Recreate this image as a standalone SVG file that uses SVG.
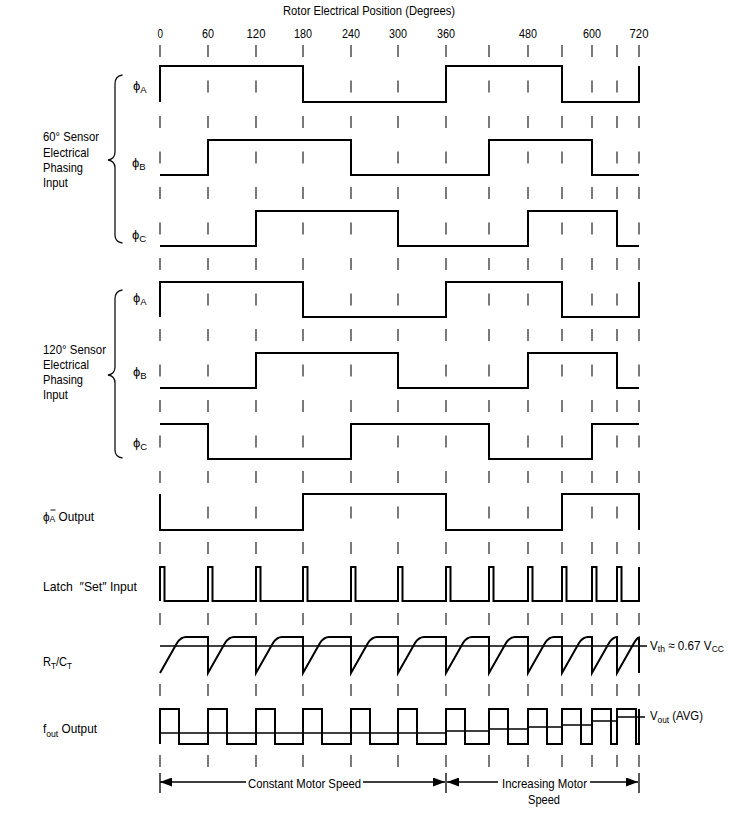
<svg xmlns="http://www.w3.org/2000/svg" width="740" height="813" viewBox="0 0 740 813">
<defs>
<style>
text{font-family:"Liberation Sans",Arial,sans-serif;font-size:13px;fill:#000}
.sub{font-size:9.5px}
.wave{fill:none;stroke:#000;stroke-width:2;stroke-linejoin:miter}
.tick{fill:none;stroke:#333;stroke-width:1.3;stroke-dasharray:12 23.5}
.bar{fill:none;stroke:#222;stroke-width:1.5}
.brace{fill:none;stroke:#111;stroke-width:1.3}
.thin{fill:none;stroke:#000;stroke-width:1.6}
</style>
<marker id="ah" viewBox="0 0 12 9" refX="12" refY="4.5" markerWidth="12" markerHeight="9" markerUnits="userSpaceOnUse" orient="auto-start-reverse">
<path d="M0,0 L12,4.5 L0,9 z" fill="#000"/>
</marker>
</defs>
<rect width="740" height="813" fill="#fff"/>

<g id="axis">
<text x="283" y="15" textLength="172" lengthAdjust="spacingAndGlyphs">Rotor Electrical Position (Degrees)</text>
<text x="157.5" y="38" textLength="5.5" lengthAdjust="spacingAndGlyphs">0</text>
<text x="202" y="38" textLength="12" lengthAdjust="spacingAndGlyphs">60</text>
<text x="246.5" y="38" textLength="19" lengthAdjust="spacingAndGlyphs">120</text>
<text x="294" y="38" textLength="18" lengthAdjust="spacingAndGlyphs">180</text>
<text x="342" y="38" textLength="18" lengthAdjust="spacingAndGlyphs">240</text>
<text x="389" y="38" textLength="18" lengthAdjust="spacingAndGlyphs">300</text>
<text x="437" y="38" textLength="18" lengthAdjust="spacingAndGlyphs">360</text>
<text x="519" y="38" textLength="18" lengthAdjust="spacingAndGlyphs">480</text>
<text x="583" y="38" textLength="18" lengthAdjust="spacingAndGlyphs">600</text>
<text x="629.5" y="38" textLength="19" lengthAdjust="spacingAndGlyphs">720</text>
</g>

<g id="ticks">
<path class="tick" d="M160,45 V626 M160,684 V768"/>
<path class="tick" d="M208,45 V768 M256,45 V768 M303,45 V768 M351,45 V768 M398,45 V768 M446,45 V768 M489,45 V768 M528,45 V768 M562,45 V768 M592,45 V768 M617,45 V768 M639,45 V768"/>
<path class="bar" d="M160,773 V793 M446,773 V793 M639,773 V793"/>
</g>

<g id="sensor60">
<text x="43" y="141" textLength="56" lengthAdjust="spacingAndGlyphs">60° Sensor</text>
<text x="43" y="157" textLength="46" lengthAdjust="spacingAndGlyphs">Electrical</text>
<text x="43" y="172" textLength="40" lengthAdjust="spacingAndGlyphs">Phasing</text>
<text x="43" y="187" textLength="25" lengthAdjust="spacingAndGlyphs">Input</text>
<path class="brace" d="M122.5,75 Q115,76 115,84 V152 Q115,159 108,160 Q115,161 115,168 V235 Q115,242 122.5,243"/>
</g>

<g id="s60-phiA">
<text x="133" y="90">ϕ<tspan class="sub" dy="3">A</tspan></text>
<path class="wave" d="M160,102 V66 H303 V102 H446 V66 H562 V102 H639 V66"/>
</g>
<g id="s60-phiB">
<text x="132" y="167">ϕ<tspan class="sub" dy="3">B</tspan></text>
<path class="wave" d="M160,175 H208 V140 H351 V175 H489 V140 H592 V175 H639"/>
</g>
<g id="s60-phiC">
<text x="132" y="239">ϕ<tspan class="sub" dy="3">C</tspan></text>
<path class="wave" d="M160,246 H256 V211 H398 V246 H528 V211 H617 V246 H639"/>
</g>

<g id="sensor120">
<text x="43" y="354" textLength="63" lengthAdjust="spacingAndGlyphs">120° Sensor</text>
<text x="43" y="369" textLength="46" lengthAdjust="spacingAndGlyphs">Electrical</text>
<text x="43" y="384" textLength="40" lengthAdjust="spacingAndGlyphs">Phasing</text>
<text x="43" y="399" textLength="25" lengthAdjust="spacingAndGlyphs">Input</text>
<path class="brace" d="M122.5,290 Q115,291 115,299 V367 Q115,374 108,375 Q115,376 115,383 V450 Q115,457 122.5,458"/>
</g>

<g id="s120-phiA">
<text x="133" y="302">ϕ<tspan class="sub" dy="3">A</tspan></text>
<path class="wave" d="M160,317 V282 H303 V317 H446 V282 H562 V317 H639 V282"/>
</g>
<g id="s120-phiB">
<text x="133" y="376">ϕ<tspan class="sub" dy="3">B</tspan></text>
<path class="wave" d="M160,388 H256 V353 H398 V388 H528 V353 H617 V388 H639"/>
</g>
<g id="s120-phiC">
<text x="133" y="447">ϕ<tspan class="sub" dy="3">C</tspan></text>
<path class="wave" d="M160,424 H208 V459 H351 V424 H489 V459 H592 V424 H639"/>
</g>

<g id="phiAbar-output">
<text x="43" y="521" textLength="51" lengthAdjust="spacingAndGlyphs">ϕ<tspan class="sub" dy="1">A</tspan><tspan dy="-1"> Output</tspan></text>
<line x1="50.5" y1="510" x2="55.5" y2="510" stroke="#111" stroke-width="1"/>
<path class="wave" d="M160,494 V530 H303 V494 H446 V530 H562 V494 H639 V530"/>
</g>

<g id="latch-set">
<text x="43" y="591" textLength="94" lengthAdjust="spacingAndGlyphs" xml:space="preserve">Latch  ″Set″ Input</text>
<path class="wave" d="M160,601 V567 H164.5 V601 H208 V567 H212.5 V601 H256 V567 H260.5 V601 H303 V567 H307.5 V601 H351 V567 H355.5 V601 H398 V567 H402.5 V601 H446 V567 H450.5 V601 H489 V567 H493.5 V601 H528 V567 H532.5 V601 H562 V567 H566.5 V601 H592 V567 H596.5 V601 H617 V567 H621.5 V601 H639 V567"/>
</g>

<g id="rtct">
<text x="43" y="666" textLength="29" lengthAdjust="spacingAndGlyphs">R<tspan class="sub" dy="3">T</tspan><tspan dy="-3">/C</tspan><tspan class="sub" dy="3">T</tspan></text>
<path class="thin" d="M160,646 H647"/>
<path class="wave" d="M160,673 L177,643 Q181,637 186,637 H208 V673 L225,643 Q229,637 234,637 H256 V673 L273,643 Q277,637 282,637 H303 V673 L320,643 Q324,637 329,637 H351 V673 L368,643 Q372,637 377,637 H398 V673 L415,643 Q419,637 424,637 H446 V673 L463,643 Q467,637 472,637 H489 V673 L506,643 Q510,637 515,637 H528 V673 L545,643 Q549,637 554,637 H562 V673 L579,643 Q583,637 588,637 H592 V673 L609,643 Q613,637 617,637 V673 L634,643 Q637,638 639,637.5 V673"/>
<text x="650" y="650" textLength="74" lengthAdjust="spacingAndGlyphs">V<tspan class="sub" dy="2">th</tspan><tspan dy="-2"> ≈ 0.67 V</tspan><tspan class="sub" dy="2">CC</tspan></text>
</g>

<g id="fout-output">
<text x="43" y="733" textLength="54" lengthAdjust="spacingAndGlyphs">f<tspan class="sub" dy="4">out</tspan><tspan dy="-4"> Output</tspan></text>
<path class="wave" d="M160,744 V709 H179 V744 H208 V709 H227 V744 H256 V709 H275 V744 H303 V709 H322 V744 H351 V709 H370 V744 H398 V709 H417 V744 H446 V709 H465 V744 H489 V709 H508 V744 H528 V709 H547 V744 H562 V709 H581 V744 H592 V709 H611 V744 H617 V709 H636 V744 H639 V709"/>
<path class="thin" d="M160,733 H446 V731 H489 V729 H528 V727 H562 V725 H592 V721 H617 V717 H645"/>
<text x="650" y="720" textLength="53" lengthAdjust="spacingAndGlyphs">V<tspan class="sub" dy="2.5">out</tspan><tspan dy="-2.5"> (AVG)</tspan></text>
</g>

<g id="connectors">
<line x1="160" y1="782" x2="246" y2="782" stroke="#000" stroke-width="1.3" marker-start="url(#ah)"/>
<line x1="363" y1="782" x2="445" y2="782" stroke="#000" stroke-width="1.3" marker-end="url(#ah)"/>
<line x1="447" y1="782" x2="498" y2="782" stroke="#000" stroke-width="1.3" marker-start="url(#ah)"/>
<line x1="590" y1="782" x2="638" y2="782" stroke="#000" stroke-width="1.3" marker-end="url(#ah)"/>
</g>
<g id="speed-labels">
<text x="248" y="788" textLength="113" lengthAdjust="spacingAndGlyphs">Constant Motor Speed</text>
<text x="502" y="788" textLength="85" lengthAdjust="spacingAndGlyphs">Increasing Motor</text>
<text x="528" y="804" textLength="32" lengthAdjust="spacingAndGlyphs">Speed</text>
</g>
</svg>
